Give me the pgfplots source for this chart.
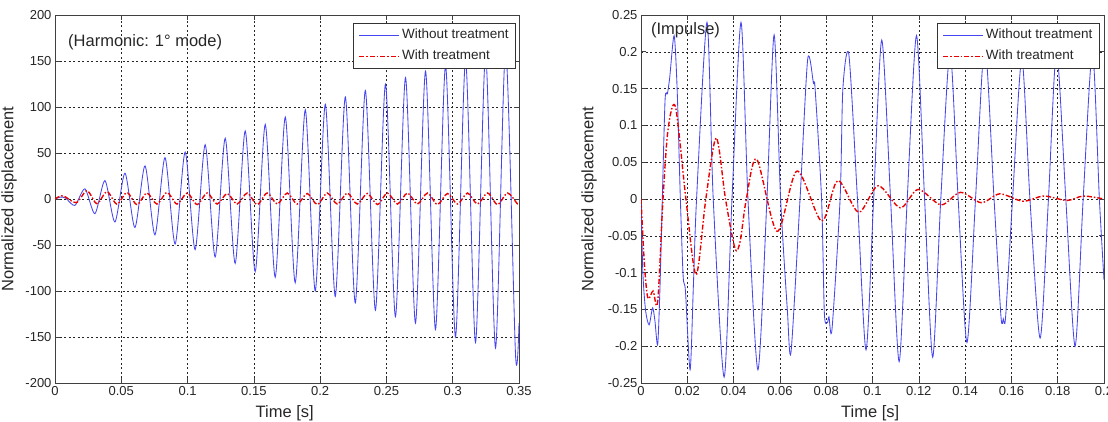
\documentclass[border=0pt]{standalone}
\usepackage{pgfplots}
\pgfplotsset{compat=1.18}
\usepackage{fontspec}
\setmainfont{Liberation Sans}
\definecolor{mblue}{RGB}{70,70,240}
\definecolor{mred}{RGB}{235,0,0}
\pgfplotsset{
  mstyle/.style={
    scale only axis,
    tick align=inside, tick pos=both,
    major tick length=5pt,
    axis line style={draw=black!75, line width=0.8pt},
    every tick/.style={black!75, line width=0.6pt},
    grid=major,
    major grid style={black!85, line width=0.5pt, dash pattern=on 2pt off 2.5pt},
    scaled ticks=false,
    /pgf/number format/.cd, fixed, precision=2, assume math mode=true, /pgfplots/.cd,
    tick label style={font=\fontsize{13}{15}\selectfont, text=black!85},
    label style={font=\fontsize{16.5}{19}\selectfont, text=black!85},
    legend style={font=\fontsize{13.5}{15}\selectfont, text=black!85, draw=black!80, fill=white,
      line width=0.7pt, inner xsep=5pt, inner ysep=3pt,
      nodes={inner xsep=2pt, inner ysep=2.5pt, text height=10pt, text depth=3pt},
      row sep=3pt},
    legend cell align=left,
    legend image code/.code={\draw[#1] (0pt,0pt) -- (40pt,0pt);},
    xlabel style={at={(axis description cs:0.495,-0.082)}, anchor=center},
  },
  blueline/.style={mblue, line width=0.85pt, smooth, tension=0.45, no marks},
  redline/.style={mred, line width=1.4pt, smooth, tension=0.5, no marks, dash pattern=on 5pt off 2pt on 1.5pt off 2pt},
}
\begin{document}
\begin{tikzpicture}
\path[use as bounding box] (0,0) rectangle (1108pt,422pt);
\begin{axis}[mstyle,
  at={(55pt,39pt)}, anchor=south west,
  width=464pt, height=368pt,
  xmin=0, xmax=0.35, ymin=-200, ymax=200,
  xtick={0,0.05,0.1,0.15,0.2,0.25,0.3,0.35},
  ytick={-200,-150,-100,-50,0,50,100,150,200},
  xlabel={Time [s]}, ylabel={Normalized displacement},
  ylabel style={at={(axis description cs:-0.099,0.5)}, anchor=center, rotate=0},
  legend style={at={(0.9935,0.978)}, anchor=north east},
]
\addplot[blueline] coordinates {
(0,0) (0.004,2) (0.008,1) (0.0150,-7) (0.0226,11) (0.0301,-16) (0.0377,20) (0.0452,-25)
(0.0528,28) (0.0603,-31) (0.0679,36) (0.0754,-39) (0.0830,45) (0.0906,-49) (0.0982,51)
(0.1057,-55) (0.1133,59) (0.1208,-63) (0.1284,66) (0.1359,-70) (0.1435,74) (0.1510,-79)
(0.1586,81) (0.1661,-85) (0.1737,89) (0.1812,-91) (0.1888,97) (0.1963,-100) (0.2039,103)
(0.2114,-106) (0.2190,111) (0.2265,-113) (0.2341,118) (0.2417,-121) (0.2493,125)
(0.2568,-128) (0.2644,132) (0.2719,-135) (0.2795,139) (0.2870,-142) (0.2946,145)
(0.3021,-150) (0.3097,151) (0.3172,-156) (0.3248,157) (0.3323,-162) (0.3399,163)
(0.3474,-170) (0.3500,-135)
};
\addlegendentry{Without treatment}
\addplot[redline] coordinates {
(0,0) (0.006,3.5) (0.0160,-4) (0.0241,9) (0.0316,-5) (0.0392,8) (0.0467,-5.5) (0.0543,7)
(0.0618,-6) (0.0694,6.5) (0.0769,-5.5) (0.0845,7) (0.0921,-5.5) (0.0997,6.5) (0.1072,-6)
(0.1148,6.5) (0.1223,-5.5) (0.1299,6) (0.1374,-5.5) (0.1450,6.5) (0.1525,-6) (0.1601,6.5)
(0.1676,-5.5) (0.1752,6.5) (0.1827,-5.5) (0.1903,6) (0.1978,-6) (0.2054,6.5) (0.2129,-5.5)
(0.2205,6.5) (0.2280,-5.5) (0.2356,6) (0.2432,-6) (0.2508,6.5) (0.2583,-5.5) (0.2659,6.5)
(0.2734,-5.5) (0.2810,6.5) (0.2885,-6) (0.2961,6) (0.3036,-5.5) (0.3112,6.5) (0.3187,-5.5)
(0.3263,6.5) (0.3338,-6) (0.3414,6.5) (0.3489,-5.5) (0.3500,-5)
};
\addlegendentry{With treatment}
\node[anchor=west, inner sep=0pt, font=\fontsize{16.5}{19}\selectfont, text=black!85] at (axis cs:0.0098,170) {(Harmonic: 1° mode)};
\end{axis}
\begin{axis}[mstyle,
  at={(641pt,39pt)}, anchor=south west,
  width=463pt, height=368pt,
  xmin=0, xmax=0.2, ymin=-0.25, ymax=0.25,
  xtick={0,0.02,0.04,0.06,0.08,0.1,0.12,0.14,0.16,0.18,0.2},
  ytick={-0.25,-0.2,-0.15,-0.1,-0.05,0,0.05,0.1,0.15,0.2,0.25},
  xlabel={Time [s]}, ylabel={Normalized displacement},
  ylabel style={at={(axis description cs:-0.112,0.5)}, anchor=center, rotate=0},
  legend style={at={(0.991,0.978)}, anchor=north east},
]
\addplot[blueline] coordinates {
(0,0) (0.0008,-0.10) (0.0020,-0.152) (0.0035,-0.171) (0.0050,-0.148) (0.0060,-0.165)
(0.0072,-0.198) (0.0082,-0.12) (0.0092,0.0) (0.0104,0.135) (0.0114,0.143) (0.0124,0.165)
(0.0143,0.222) (0.0156,0.15) (0.0170,0.0) (0.0182,-0.105) (0.0192,-0.125) (0.0212,-0.232)
(0.0226,-0.12) (0.0240,0.0) (0.0285,0.240) (0.0312,0.0) (0.0359,-0.242) (0.0393,0.0)
(0.0432,0.240) (0.0462,0.0) (0.0505,-0.232) (0.0544,0.0) (0.0575,0.223) (0.0603,0.0)
(0.0632,-0.15) (0.0648,-0.208) (0.0687,0.0) (0.0720,0.190) (0.0745,0.157) (0.0752,0.150)
(0.0780,0.0) (0.0792,-0.155) (0.0805,-0.168) (0.0812,-0.160) (0.0825,-0.177) (0.0860,0.0)
(0.0872,0.150) (0.0898,0.196) (0.0935,0.0) (0.0972,-0.205) (0.1005,0.0) (0.1040,0.216)
(0.1078,0.0) (0.1115,-0.221) (0.1150,0.0) (0.1190,0.222) (0.1225,0.0) (0.1260,-0.215)
(0.1295,0.0) (0.1335,0.200) (0.1370,0.0) (0.1408,-0.195) (0.1445,0.0) (0.1485,0.210)
(0.1525,0.0) (0.1555,-0.160) (0.1565,-0.163) (0.1575,-0.160) (0.1605,0.0) (0.1645,0.190)
(0.1680,0.0) (0.1724,-0.189) (0.1760,0.0) (0.1795,0.200) (0.1835,0.0) (0.1875,-0.200)
(0.1910,0.0) (0.1950,0.200) (0.1980,0.0) (0.2000,-0.11)
};
\addlegendentry{Without treatment}
\addplot[redline] coordinates {
(0,0) (0.0015,-0.09) (0.0030,-0.135) (0.0052,-0.125) (0.0072,-0.140) (0.0095,0.0)
(0.0117,0.095) (0.0149,0.125) (0.0194,0.0) (0.0238,-0.103) (0.0280,0.0) (0.0325,0.083)
(0.0365,0.0) (0.0406,-0.067) (0.0428,-0.058) (0.0455,0.0) (0.0500,0.054) (0.0588,-0.044)
(0.0674,0.038) (0.0780,-0.030) (0.0850,0.025) (0.0940,-0.018) (0.1024,0.018) (0.1120,-0.012)
(0.1197,0.013) (0.1296,-0.008) (0.1380,0.009) (0.1470,-0.005) (0.1550,0.007) (0.1650,-0.003)
(0.1740,0.004) (0.1840,-0.002) (0.1910,0.004) (0.2000,0.000)
};
\addlegendentry{With treatment}
\node[anchor=west, inner sep=0pt, font=\fontsize{16.5}{19}\selectfont, text=black!85] at (axis cs:0.0043,0.2296) {(Impulse)};
\end{axis}
\end{tikzpicture}
\end{document}
